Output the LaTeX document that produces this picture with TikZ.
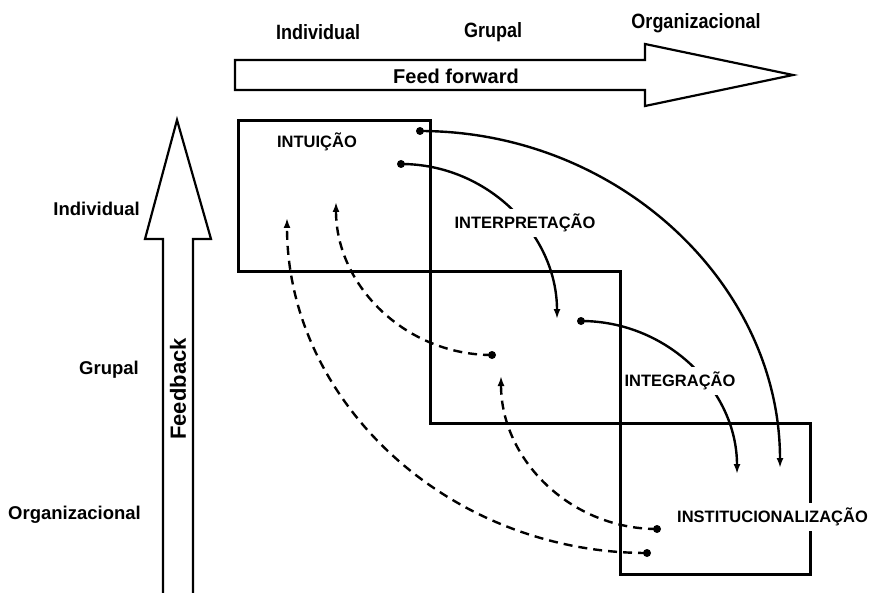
\documentclass[tikz,border=0pt]{standalone}
\usepackage{fontspec}
\setmainfont{Liberation Sans}
\usetikzlibrary{arrows.meta}

\begin{document}
\begin{tikzpicture}[x=1pt,y=-1pt,
  stage/.style={line width=3pt},
  bigarrow/.style={line width=2.2pt, line join=miter},
  flow/.style={line width=2.4pt, -{Latex[length=10pt,width=7pt]}},
  backflow/.style={flow, dash pattern=on 9pt off 6pt},
  dot/.style={fill=black},
  lab/.style={font=\bfseries\fontsize{16.5}{18}\selectfont, inner sep=0pt},
  wlab/.style={lab, fill=white, inner xsep=3pt, inner ysep=5pt},
  level/.style={font=\bfseries\fontsize{18.5}{20}\selectfont, inner sep=0pt},
  toplevel/.style={font=\bfseries\fontsize{18}{20}\selectfont, inner sep=0pt, yscale=1.15}
]
\useasboundingbox (0,0) rectangle (877,593);

% level headings
\node[toplevel] (tind) at (318,32) {Individual};
\node[toplevel] (tgru) at (493,32) {Grupal};
\node[toplevel] (torg) at (696,23) {Organizacional};
\node[level, anchor=east] (lind) at (140,209) {Individual};
\node[level, anchor=east] (lgru) at (139,370) {Grupal};
\node[level, anchor=east] (lorg) at (141,515) {Organizacional};

% feed forward and feedback block arrows
\draw[bigarrow] (235,60) -- (645,60) -- (645,44) -- (793,75) -- (645,106)
  -- (645,90) -- (235,90) -- cycle;
\node[font=\bfseries\fontsize{20}{22}\selectfont] (ff) at (456,76) {Feed forward};
\draw[bigarrow] (163,593) -- (163,239) -- (145,239) -- (177,120) -- (211,239)
  -- (193,239) -- (193,593);
\node[font=\bfseries\fontsize{22}{24}\selectfont, rotate=90] (fb) at (178,389) {Feedback};

% the three stages
\draw[stage] (238,121) rectangle (430,272);
\draw[stage] (430,272) rectangle (620,423);
\draw[stage] (620,423) rectangle (810,574);

% start and end points of the flows
\coordinate (s1) at (420,131);  \coordinate (e1) at (780,468);
\coordinate (s2) at (401,164);  \coordinate (e2) at (557,319);
\coordinate (s3) at (581,321);  \coordinate (e3) at (737,474);
\coordinate (s4) at (492,355);  \coordinate (e4) at (336,202);
\coordinate (s5) at (657,529);  \coordinate (e5) at (501,376);
\coordinate (s6) at (647,553);  \coordinate (e6) at (287,218);

% feed-forward flows
\draw[flow] (s1) .. controls +(198,0) and +(0,-184) .. (e1);
\draw[flow] (s2) .. controls +(86,0) and +(0,-85) .. (e2);
\draw[flow] (s3) .. controls +(86,0) and +(0,-84) .. (e3);

% feedback flows
\draw[backflow] (s4) .. controls +(-86,0) and +(0,84) .. (e4);
\draw[backflow] (s5) .. controls +(-86,0) and +(0,84) .. (e5);
\draw[backflow] (s6) .. controls +(-198,0) and +(0,184) .. (e6);

\foreach \p in {s1,s2,s3,s4,s5,s6}
  \fill[dot] (\p) circle[radius=4pt];

% stage labels
\node[lab] (intu) at (317,142) {INTUIÇÃO};
\node[wlab] (inte) at (525,223) {INTERPRETAÇÃO};
\node[wlab] (integ) at (680,381) {INTEGRAÇÃO};
\node[wlab, anchor=west] (inst) at (674,517) {INSTITUCIONALIZAÇÃO};
\end{tikzpicture}
\end{document}
